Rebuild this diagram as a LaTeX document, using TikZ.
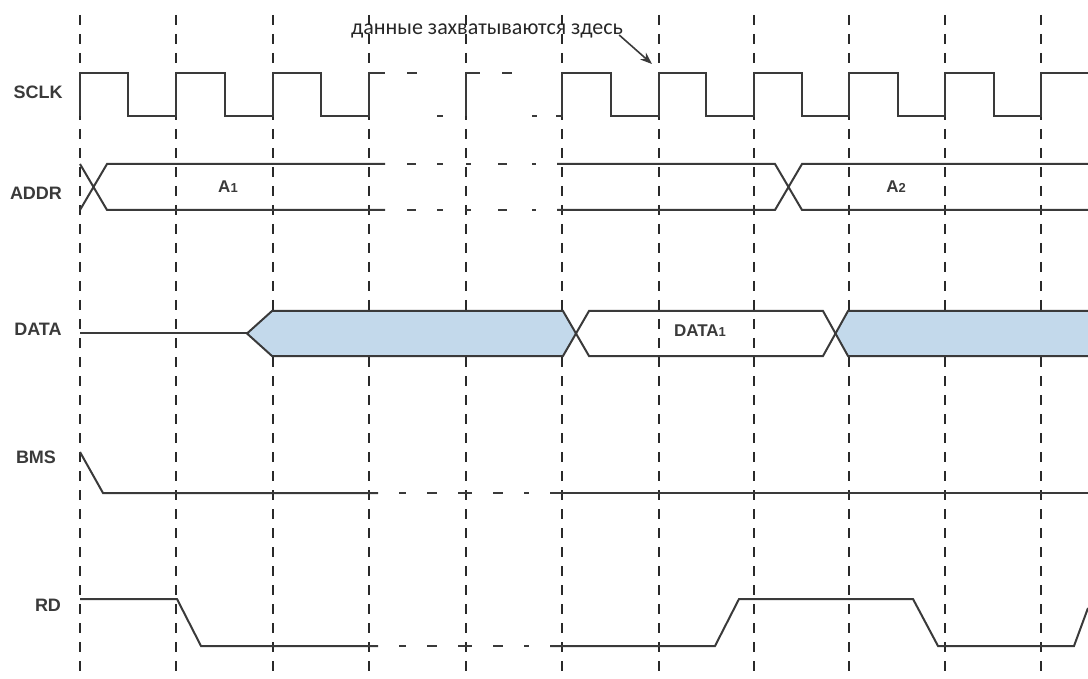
\documentclass[tikz,border=0pt]{standalone}
\usepackage{fontspec}
\setmainfont{Liberation Sans}
\newfontfamily\capfont{Carlito}
\usetikzlibrary{arrows.meta}
\definecolor{sigcol}{HTML}{3A3A3A}
\definecolor{gridcol}{HTML}{2A2A2A}
\definecolor{busblue}{HTML}{C3D9EB}
\tikzset{
  sig/.style={draw=sigcol,line width=2pt,line join=miter},
  brk/.style={draw=sigcol,line width=2pt},
  gridline/.style={draw=gridcol,line width=2pt,dash pattern=on 10pt off 9pt},
  lbl/.style={font=\bfseries\fontsize{18}{18}\selectfont,text=sigcol,inner sep=0pt},
  val/.style={font=\bfseries\fontsize{17}{17}\selectfont,text=sigcol,inner sep=0pt},
}
\newcommand{\sm}[1]{{\fontsize{13}{13}\selectfont #1}}
\begin{document}
\begin{tikzpicture}[x=1pt,y=-1pt]
\useasboundingbox (0,0) rectangle (1088,679);
% grid
\foreach \gx in {80,176,273,369,466,562,659,754,849,945,1041}
  \draw[gridline] (\gx,15) -- (\gx,679);
% labels
\node[lbl] (lsclk) at (38,92) {SCLK};
\node[lbl] (laddr) at (36,193.5) {ADDR};
\node[lbl] (ldata) at (38,329) {DATA};
\node[lbl] (lbms) at (36,457) {BMS};
\node[lbl] (lrd) at (48,605) {RD};
% SCLK
\draw[sig] (80,116)--(80,73)--(128,73)--(128,116)--(176,116)--(176,73)--(224.5,73)--(224.5,116)--(273,116)--(273,73)--(321,73)--(321,116)--(369,116)--(369,73)--(385,73);
\draw[brk] (407,73)--(417,73) (437,116)--(443,116) (466,116)--(466,73)--(480,73) (502,73)--(512,73) (532,116)--(537,116);
\draw[sig] (556,116)--(562,116)--(562,73)--(610.5,73)--(610.5,116)--(659,116)--(659,73)--(706,73)--(706,116)--(754,116)--(754,73)--(801.5,73)--(801.5,116)--(849,116)--(849,73)--(897.5,73)--(897.5,116)--(945,116)--(945,73)--(993.5,73)--(993.5,116)--(1041,116)--(1041,73)--(1088,73);
% ADDR
\draw[sig] (80,164)--(107,210)--(385,210) (80,210)--(107,164)--(385,164);
\foreach \yy in {164,210}
  \draw[brk] (407,\yy)--(416,\yy) (437,\yy)--(443,\yy) (466,\yy)--(471,\yy) (498,\yy)--(507,\yy) (532,\yy)--(536,\yy);
\draw[sig] (557,164)--(775,164)--(802,210)--(1088,210) (557,210)--(775,210)--(802,164)--(1088,164);
\node[val] (a1) at (228,187) {A\sm{1}};
\node[val] (a2) at (896,187) {A\sm{2}};
% DATA
\draw[sig] (80,333.5)--(247,333.5);
\draw[sig,fill=busblue] (247,333.5)--(272,311)--(563,311)--(576,333.5)--(563,356)--(272,356)--cycle;
\draw[sig] (576,333.5)--(589,311)--(823,311)--(835.5,333.5)--(823,356)--(589,356)--cycle;
\fill[busblue] (835.5,333.5)--(848,311)--(1088,311)--(1088,356)--(848,356)--cycle;
\draw[sig] (1088,311)--(848,311)--(835.5,333.5)--(848,356)--(1088,356);
\node[val] (d1) at (700,331) {DATA\sm{1}};
% BMS
\draw[sig] (80,452)--(103,493)--(378,493);
\draw[sig] (550,493)--(1088,493);
% RD
\draw[sig] (80,599)--(177,599)--(201,646)--(378,646);
\draw[sig] (550,646)--(715,646)--(739,599)--(913,599)--(938,646)--(1074,646)--(1088,608);
\foreach \yy in {493,646}
  \draw[brk] (399,\yy)--(406,\yy) (427,\yy)--(437,\yy) (458,\yy)--(472,\yy) (493,\yy)--(503,\yy) (524,\yy)--(529,\yy);
% annotation
\node[font=\capfont\fontsize{22}{22}\selectfont,text=black!85,inner sep=0pt] (cap) at (487,31) {данные захватываются здесь};
\coordinate (tip) at (652,64);
\draw[sigcol,line width=1.6pt,-{Stealth[length=12pt,width=9pt]}] (cap.east) ++(-4,4) -- (tip);
\end{tikzpicture}
\end{document}
